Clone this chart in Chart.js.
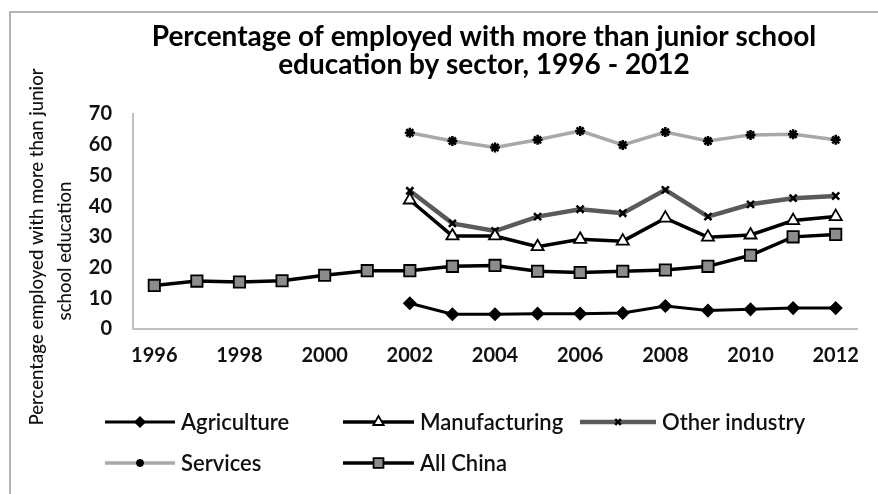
<!DOCTYPE html>
<html>
<head>
<meta charset="utf-8">
<script src="https://cdn.jsdelivr.net/npm/chart.js@4.4.1/dist/chart.umd.min.js"></script>
<style>
  html, body { margin: 0; padding: 0; background: #fff; }
  #wrap { width: 878px; height: 494px; position: relative; }
</style>
</head>
<body>
<div id="wrap"><canvas id="c" width="878" height="494"></canvas></div>
<script>
const titleLines = ["Percentage of employed with more than junior school", "education by sector, 1996 - 2012"];
const yTitleLines = ["Percentage employed with more than junior", "school education"];
const years = ["1996","1997","1998","1999","2000","2001","2002","2003","2004","2005","2006","2007","2008","2009","2010","2011","2012"];
const yTicks = [0, 10, 20, 30, 40, 50, 60, 70];
const seriesNames = ["Agriculture", "Manufacturing", "Other industry", "Services", "All China"];
const agriculture   = [null,null,null,null,null,null, 8.4, 4.8, 4.8, 5.0, 5.0, 5.2, 7.5, 6.0, 6.4, 6.8, 6.8];
const manufacturing = [null,null,null,null,null,null, 42.0, 30.3, 30.3, 26.8, 29.2, 28.6, 36.1, 29.9, 30.6, 35.3, 36.6];
const otherIndustry = [null,null,null,null,null,null, 45.0, 34.4, 31.9, 36.6, 39.0, 37.7, 45.3, 36.6, 40.6, 42.6, 43.3];
const services      = [null,null,null,null,null,null, 63.9, 61.2, 59.1, 61.6, 64.5, 59.9, 64.1, 61.2, 63.2, 63.4, 61.6];
const allChina      = [14.2, 15.6, 15.3, 15.7, 17.5, 19.0, 19.0, 20.4, 20.7, 18.8, 18.4, 18.8, 19.2, 20.4, 24.0, 30.0, 30.8];

const styles = [
  { color: '#000000', width: 3,   point: 'rectRot',  radius: 6, fill: '#000000', pbw: 1.5 },
  { color: '#000000', width: 3.5, point: 'triangle', radius: 7, fill: '#ffffff', pbw: 1.8 },
  { color: '#5a5a5a', width: 4.5, point: 'crossRot', radius: 5, fill: '#000000', pbw: 2.5 },
  { color: '#a8a8a8', width: 3.5, point: 'star',     radius: 5, fill: '#000000', pbw: 2.5 },
  { color: '#000000', width: 3.5, point: 'rect',     radius: 8, fill: '#8c8c8c', pbw: 1.8 }
];
const seriesData = [agriculture, manufacturing, otherIndustry, services, allChina];

const datasets = seriesNames.map((name, i) => ({
  label: name,
  data: seriesData[i],
  borderColor: styles[i].color,
  borderWidth: styles[i].width,
  pointStyle: styles[i].point,
  pointRadius: styles[i].radius,
  pointBackgroundColor: styles[i].fill,
  pointBorderColor: '#000000',
  pointBorderWidth: styles[i].pbw,
  tension: 0,
  fill: false,
  spanGaps: false
}));
const order = [1, 2, 4, 3, 0];
datasets.forEach((d, i) => d.order = order[i]);

const legendPos = [
  { x: 105, y: 422, len: 70 },
  { x: 343, y: 422, len: 71 },
  { x: 580, y: 422, len: 76 },
  { x: 105, y: 463, len: 70 },
  { x: 343, y: 463, len: 71 }
];

const decor = {
  id: 'decor',
  beforeDraw(chart) {
    const ctx = chart.ctx;
    ctx.save();
    ctx.fillStyle = '#fff';
    ctx.fillRect(0, 0, chart.width, chart.height);
    ctx.strokeStyle = '#b4b4b4';
    ctx.lineWidth = 2;
    ctx.beginPath();
    ctx.moveTo(10, 494); ctx.lineTo(10, 12); ctx.lineTo(878, 12);
    ctx.stroke();
    ctx.restore();
  },
  afterDraw(chart) {
    const ctx = chart.ctx;
    ctx.save();
    // title
    ctx.fillStyle = '#000';
    ctx.textAlign = 'center';
    ctx.textBaseline = 'middle';
    ctx.font = 'bold 28px Lato';
    ctx.fillText(titleLines[0], 484, 37);
    ctx.fillText(titleLines[1], 484, 65);
    // y axis title (condensed horizontally)
    ctx.font = '500 20px Lato';
    const w0 = ctx.measureText(yTitleLines[0]).width;
    const sx = 357 / w0;
    ctx.fillStyle = '#111';
    ctx.save();
    ctx.translate(37, 247);
    ctx.rotate(-Math.PI / 2);
    ctx.scale(sx, 1);
    ctx.fillText(yTitleLines[0], 0, 0);
    ctx.restore();
    ctx.save();
    ctx.translate(65, 251);
    ctx.rotate(-Math.PI / 2);
    ctx.scale(sx, 1);
    ctx.fillText(yTitleLines[1], 0, 0);
    ctx.restore();
    // legend
    ctx.textAlign = 'left';
    ctx.font = '600 22px Lato';
    chart.data.datasets.forEach((ds, i) => {
      const p = legendPos[i];
      ctx.strokeStyle = ds.borderColor;
      ctx.lineWidth = ds.borderWidth;
      ctx.beginPath();
      ctx.moveTo(p.x, p.y); ctx.lineTo(p.x + p.len, p.y);
      ctx.stroke();
      ctx.fillStyle = ds.pointBackgroundColor;
      ctx.strokeStyle = ds.pointBorderColor;
      ctx.lineWidth = ds.pointBorderWidth;
      Chart.helpers.drawPoint(ctx, {
        pointStyle: ds.pointStyle, rotation: 0, borderWidth: ds.pointBorderWidth,
        radius: ds.pointRadius - 1
      }, p.x + p.len / 2, p.y);
      ctx.fillStyle = '#111';
      ctx.fillText(ds.label, p.x + p.len + 6, p.y + 1);
    });
    ctx.restore();
  }
};

new Chart(document.getElementById('c'), {
  type: 'line',
  data: { labels: years, datasets },
  plugins: [decor],
  options: {
    responsive: false,
    animation: false,
    devicePixelRatio: 1,
    layout: { padding: { top: 114, right: 21, bottom: 0, left: 0 } },
    plugins: { legend: { display: false }, title: { display: false }, tooltip: { enabled: false } },
    scales: {
      x: {
        type: 'category',
        offset: true,
        grid: { display: false, drawTicks: false },
        border: { display: true, color: '#c0c0c0', width: 2 },
        ticks: {
          autoSkip: false, maxRotation: 0, padding: 15,
          color: '#111', font: { family: 'Lato', size: 20, weight: 'bold' },
          callback: function (v, i) { return i % 2 === 0 ? this.getLabelForValue(v) : ''; }
        },
        afterFit(s) { s.height = 165; }
      },
      y: {
        min: 0, max: 70,
        afterBuildTicks(s) { s.ticks = yTicks.map(v => ({ value: v })); },
        grid: { display: false, drawTicks: false },
        border: { display: true, color: '#c0c0c0', width: 2 },
        ticks: { padding: 21, color: '#111', font: { family: 'Lato', size: 20, weight: 'bold' } },
        afterFit(s) { s.width = 133; }
      }
    }
  }
});
</script>
</body>
</html>
